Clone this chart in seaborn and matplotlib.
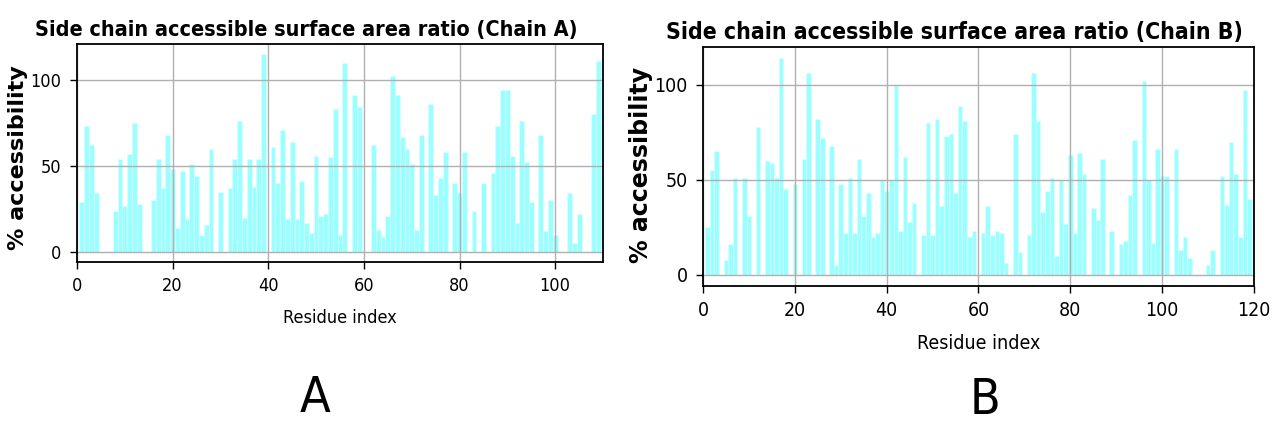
import numpy as np
import pandas as pd
import matplotlib
matplotlib.use("Agg")
import matplotlib.pyplot as plt
import seaborn as sns

# side chain relative accessibility (%) per residue
chain_a_asa = [
    29, 73, 62, 34, 0, 0, 0, 24, 54, 27,
    57, 75, 28, 0, 0, 30, 54, 37, 68, 48,
    14, 47, 19, 51, 44, 10, 16, 60, 0, 35,
    0, 37, 54, 76, 20, 54, 38, 54, 115, 0,
    61, 40, 71, 19, 64, 19, 41, 17, 11, 56,
    21, 22, 55, 83, 10, 110, 0, 91, 84, 0,
    0, 62, 13, 9, 21, 102, 91, 67, 60, 51,
    13, 68, 0, 86, 33, 43, 58, 0, 40, 34,
    58, 0, 24, 0, 40, 0, 46, 73, 94, 94,
    56, 17, 76, 52, 29, 0, 68, 12, 30, 10,
    0, 0, 34, 5, 22, 0, 0, 80, 111,
]
chain_b_asa = [
    25, 55, 65, 0, 8, 16, 51, 0, 51, 31,
    0, 78, 0, 60, 59, 51, 114, 45, 0, 48,
    0, 61, 106, 0, 82, 72, 0, 68, 5, 48,
    22, 51, 22, 61, 31, 43, 20, 22, 50, 44,
    50, 100, 23, 62, 28, 38, 0, 21, 80, 21,
    82, 36, 73, 74, 43, 89, 81, 20, 23, 0,
    22, 36, 21, 23, 22, 6, 0, 74, 12, 0,
    21, 106, 81, 33, 44, 51, 10, 50, 27, 63,
    22, 64, 53, 0, 35, 29, 61, 0, 23, 0,
    16, 18, 42, 71, 0, 102, 50, 17, 66, 52,
    52, 0, 66, 13, 20, 9, 0, 0, 0, 5,
    13, 0, 52, 37, 70, 53, 20, 97, 40,
]

BAR_COLOR = "#9cffff"

plt.rcParams["font.family"] = ["DejaVu Sans"]
plt.rcParams["font.stretch"] = "condensed"  # the source image is squeezed sideways


def draw_panel(ax, values, chain, fs, title_x, ylab_xy):
    n = len(values)
    df = pd.DataFrame({"residue": np.arange(1, n + 1), "asa": values})
    sns.barplot(data=df, x="residue", y="asa", native_scale=True, width=1,
                color=BAR_COLOR, saturation=1, edgecolor="#dcffff", linewidth=0.4,
                errorbar=None, ax=ax)
    # bars are sticky at 0 -> drop that so the y range gets the usual 5% pad
    ax.use_sticky_edges = False
    ax.autoscale_view()
    ax.set_xlim(0, n + 1)
    ax.set_xticks(range(0, n + 2, 20))
    ax.set_yticks([0, 50, 100])
    ax.grid(True, color="#b0b0b0", linewidth=1)
    for sp in ax.spines.values():
        sp.set_linewidth(1.3)
    ax.tick_params(length=5, width=1, labelsize=fs, pad=6)
    ax.set_title(f"Side chain accessible surface area ratio (Chain {chain})",
                 x=title_x, fontsize=fs + 2.5, fontweight="bold", pad=6)
    ax.set_xlabel("Residue index", fontsize=fs, labelpad=10)
    ax.set_ylabel("% accessibility", fontsize=fs + 3, fontweight="bold",
                  fontstretch="normal")
    ax.yaxis.set_label_coords(*ylab_xy)


fig = plt.figure(figsize=(12.73, 4.26), dpi=100)
ax_a = fig.add_axes([0.0605, 0.385, 0.4132, 0.5117])
ax_b = fig.add_axes([0.5522, 0.3293, 0.4329, 0.5596])

draw_panel(ax_a, chain_a_asa, "A", 13, 0.436, (-0.093, 0.477))
draw_panel(ax_b, chain_b_asa, "B", 14, 0.457, (-0.091, 0.506))

fig.text(315 / 1273, 1 - 398 / 426, "A", ha="center", va="center", fontsize=36)
fig.text(985 / 1273, 1 - 400 / 426, "B", ha="center", va="center", fontsize=36)

fig.savefig("out.png", dpi=100)
